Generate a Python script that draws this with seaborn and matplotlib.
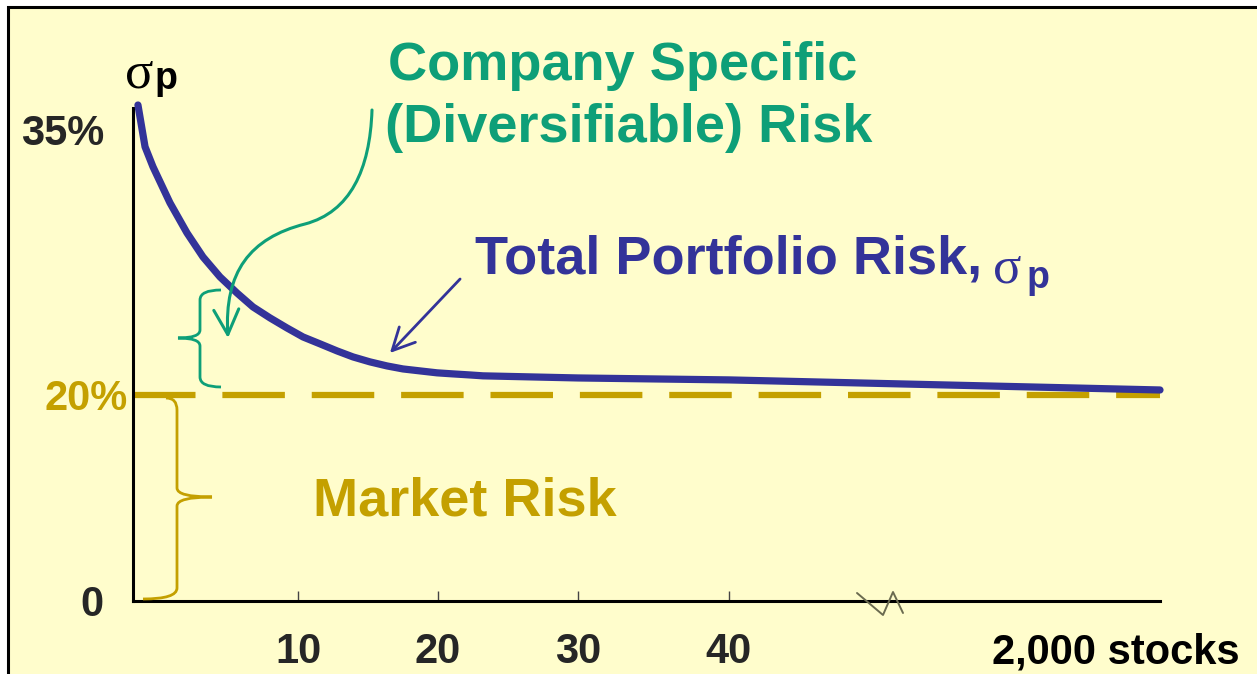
import numpy as np
import matplotlib
matplotlib.use("Agg")
import matplotlib.pyplot as plt
from matplotlib.path import Path
from matplotlib.patches import PathPatch, FancyArrowPatch, Rectangle
from matplotlib.lines import Line2D
import seaborn as sns

# %% data (schematic diversification chart)
stocks = [0.3, 0.73, 1.21, 2.24, 3.27, 4.24, 5.27, 6.3, 7.27, 8.3, 9.33,
          10.36, 11.57, 12.79, 13.93, 15.14, 16.36, 17.5, 18.71, 19.93,
          21.07, 22.29, 23.21, 30, 40, 2000]
total_risk = [36.41, 34.04, 32.91, 30.87, 29.17, 27.81, 26.68, 25.77, 24.98,
              24.36, 23.79, 23.28, 22.89, 22.49, 22.15, 21.87, 21.64, 21.47,
              21.36, 21.25, 21.19, 21.13, 21.08, 20.96, 20.85, 20.28]
market_risk = 20
x_ticks = [10, 20, 30, 40]
x_labels = ["10", "20", "30", "40"]
y_ticks = [0, 20, 35]
y_labels = ["0", "20%", "35%"]

# broken / stretched axes of the slide -> piecewise linear scales
x_knots = [0, 10, 20, 30, 40, 2000]
x_pos = [0, 165, 305, 445, 596, 1027]
y_knots = [0, 20, 35, 40]
y_pos = [0, 206, 471, 559]

BG = "#FFFDCC"
BLUE = "#333399"
GREEN = "#0E9F78"
GOLD = "#C4A000"

W, H = 1257, 674


def P(x, y):
    """slide pixel -> figure fraction"""
    return (x / W, 1 - y / H)


sns.set_style("ticks")
plt.rcParams['font.family'] = ['Liberation Sans', 'DejaVu Sans']

fig = plt.figure(figsize=(W / 100, H / 100), dpi=100, facecolor="white")
fig.add_artist(Rectangle(P(8, 700), 1.2, (700 - 7) / H, transform=fig.transFigure,
                         facecolor=BG, edgecolor="black", lw=2.2, zorder=-10))

ax = fig.add_axes([133 / W, 1 - 601 / H, 1027 / W, (601 - 108) / H])
ax.set_facecolor("none")
ax.set_xscale("function", functions=(lambda v: np.interp(v, x_knots, x_pos),
                                     lambda v: np.interp(v, x_pos, x_knots)))
ax.set_yscale("function", functions=(lambda v: np.interp(v, y_knots, y_pos),
                                     lambda v: np.interp(v, y_pos, y_knots)))

ax.axhline(market_risk, color=GOLD, lw=4.5, dashes=(10, 4.3),
           dash_capstyle="butt", zorder=2)
sns.lineplot(x=stocks, y=total_risk, color=BLUE, lw=5.2, ax=ax,
             clip_on=False, solid_capstyle="round", solid_joinstyle="round",
             zorder=3)

ax.set_xlim(0, 2000)
ax.set_ylim(0, 36.24)
sns.despine(ax=ax)
for s in ["left", "bottom"]:
    ax.spines[s].set_linewidth(2.2)
    ax.spines[s].set_color("black")

ax.set_xticks(x_ticks, x_labels)
ax.set_yticks(y_ticks, y_labels)
ax.minorticks_off()
ax.tick_params(axis="x", direction="in", length=7, width=1, color="#444444",
               pad=22, labelsize=30)
ax.tick_params(axis="y", length=0, pad=21, labelsize=30)
for lbl in ax.get_xticklabels() + ax.get_yticklabels():
    lbl.set_fontweight("bold")
ax.get_yticklabels()[1].set_color(GOLD)
ax.yaxis.get_major_ticks()[1].set_pad(3.5)

# texts
fig.text(*P(388, 80), "Company Specific", color=GREEN, fontsize=39,
         weight="bold", va="baseline")
fig.text(*P(385, 142), "(Diversifiable) Risk", color=GREEN, fontsize=39,
         weight="bold", va="baseline")
fig.text(*P(475, 274), "Total Portfolio Risk,", color=BLUE, fontsize=39,
         weight="bold", va="baseline")
fig.text(*P(1007, 270), "σ", color=BLUE, fontsize=38, family="Liberation Serif",
         ha="center", va="center")
fig.text(*P(1038, 278), "p", color=BLUE, fontsize=27, weight="bold",
         ha="center", va="center")
fig.text(*P(139, 75), "σ", color="black", fontsize=38, family="Liberation Serif",
         ha="center", va="center")
fig.text(*P(166, 79), "p", color="black", fontsize=27, weight="bold",
         ha="center", va="center")
fig.text(*P(313, 515), "Market Risk", color=GOLD, fontsize=39,
         weight="bold", va="baseline")
fig.text(*P(1240, 664), "2,000 stocks", color="black", fontsize=30,
         weight="bold", ha="right", va="baseline")

# arrows
green_path = Path([P(372, 110), P(370, 170), P(350, 212), P(305, 224),
                   P(250, 238), P(224, 272), P(228, 338)],
                  [Path.MOVETO] + [Path.CURVE4] * 6)
fig.add_artist(FancyArrowPatch(path=green_path, arrowstyle="->,head_length=0.9,head_width=0.45",
                               mutation_scale=20, lw=2.2, color=GREEN,
                               transform=fig.transFigure))
fig.add_artist(FancyArrowPatch(P(462, 277), P(388, 355),
                               arrowstyle="->,head_length=0.8,head_width=0.4",
                               mutation_scale=20, lw=2, color=BLUE,
                               transform=fig.transFigure))

# braces
C3 = Path.CURVE3
green_brace = Path([P(221, 290), P(200, 290), P(200, 300), P(200, 330),
                    P(200, 338), P(178, 338), P(200, 338), P(200, 346),
                    P(200, 377), P(200, 387), P(221, 387)],
                   [Path.MOVETO, C3, C3, Path.LINETO, C3, C3, C3, C3,
                    Path.LINETO, C3, C3])
fig.add_artist(PathPatch(green_brace, fill=False, ec=GREEN, lw=2,
                         transform=fig.transFigure))
gold_brace = Path([P(166, 398), P(177, 398), P(177, 410), P(177, 488),
                   P(177, 497), P(212, 497), P(177, 497), P(177, 506),
                   P(177, 588), P(177, 599), P(143, 599)],
                  [Path.MOVETO, C3, C3, Path.LINETO, C3, C3, C3, C3,
                   Path.LINETO, C3, C3])
fig.add_artist(PathPatch(gold_brace, fill=False, ec=GOLD, lw=2,
                         transform=fig.transFigure))

# axis break mark
bx, by = zip(*[P(857, 593), P(883, 615), P(893, 592), P(903, 613)])
fig.add_artist(Line2D(bx, by, color="#6B6B50", lw=1.4, transform=fig.transFigure))

plt.savefig("out.png", dpi=100, facecolor="white")
